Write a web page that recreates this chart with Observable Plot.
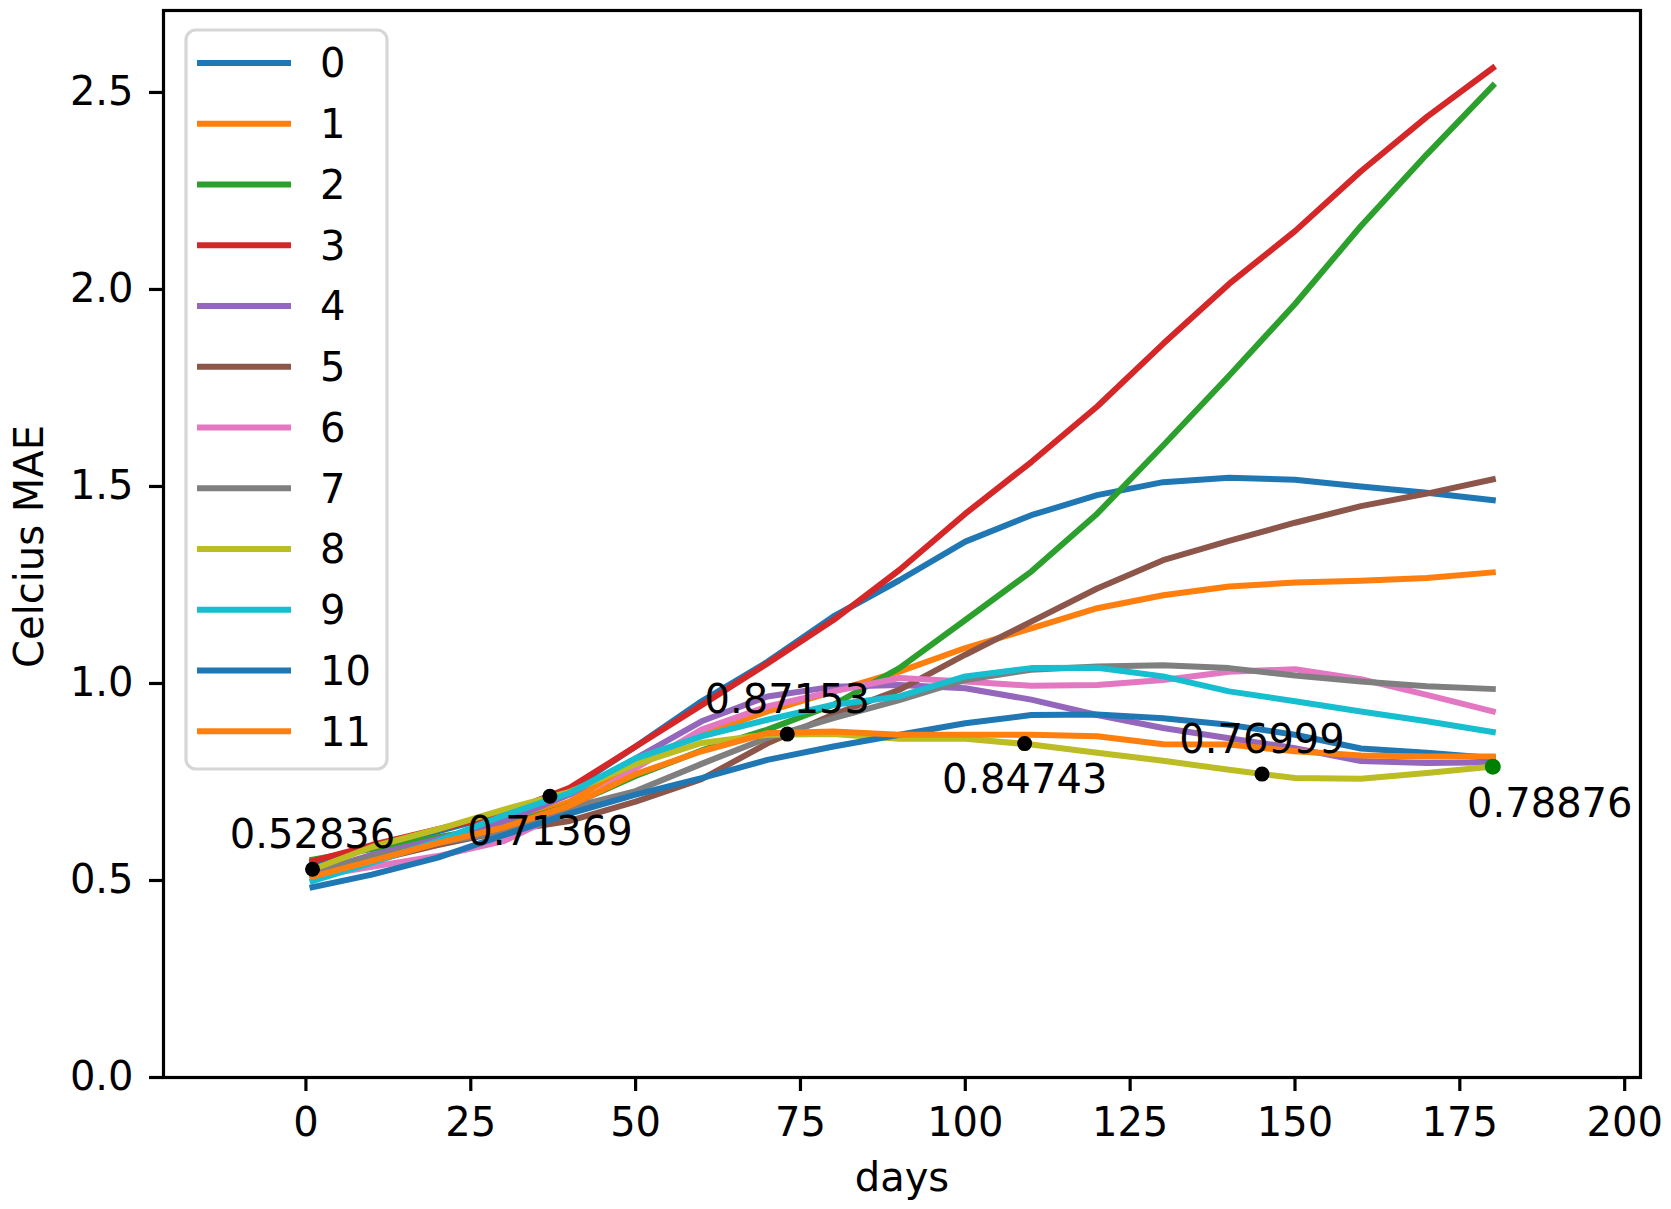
<!DOCTYPE html>
<html>
<head>
<meta charset="utf-8">
<script src="https://cdn.jsdelivr.net/npm/d3@7"></script>
<script src="https://cdn.jsdelivr.net/npm/@observablehq/plot@0.6"></script>
<style>
  html, body { margin: 0; padding: 0; background: #ffffff; }
</style>
</head>
<body>
<div id="chart"></div>
<script>
// ---- data ----
const days = [1, 10, 20, 30, 40, 50, 60, 70, 80, 90, 100, 110, 120, 130, 140, 150, 160, 170, 180];
const seriesNames = ["0", "1", "2", "3", "4", "5", "6", "7", "8", "9", "10", "11"];
const s0  = [0.545, 0.585, 0.625, 0.670, 0.730, 0.840, 0.955, 1.055, 1.170, 1.262, 1.360, 1.427, 1.478, 1.511, 1.522, 1.517, 1.500, 1.484, 1.465];
const s1  = [0.515, 0.555, 0.600, 0.640, 0.700, 0.800, 0.870, 0.929, 0.980, 1.030, 1.090, 1.140, 1.191, 1.224, 1.246, 1.256, 1.261, 1.268, 1.282];
const s2  = [0.553, 0.580, 0.610, 0.640, 0.690, 0.765, 0.830, 0.883, 0.946, 1.039, 1.161, 1.284, 1.431, 1.604, 1.781, 1.963, 2.161, 2.343, 2.517];
const s3  = [0.549, 0.590, 0.630, 0.670, 0.735, 0.840, 0.945, 1.051, 1.161, 1.288, 1.431, 1.562, 1.703, 1.862, 2.014, 2.148, 2.300, 2.438, 2.562];
const s4  = [0.520, 0.565, 0.605, 0.650, 0.718, 0.810, 0.904, 0.967, 0.992, 0.996, 0.988, 0.959, 0.920, 0.887, 0.861, 0.836, 0.803, 0.798, 0.800];
const s5  = [0.510, 0.550, 0.590, 0.625, 0.651, 0.700, 0.757, 0.848, 0.921, 0.984, 1.073, 1.157, 1.241, 1.313, 1.362, 1.408, 1.450, 1.482, 1.518];
const s6  = [0.510, 0.535, 0.562, 0.600, 0.680, 0.785, 0.883, 0.942, 0.980, 1.014, 1.005, 0.994, 0.996, 1.009, 1.030, 1.036, 1.011, 0.971, 0.929];
const s7  = [0.525, 0.560, 0.595, 0.625, 0.684, 0.727, 0.796, 0.862, 0.912, 0.958, 1.009, 1.035, 1.043, 1.046, 1.039, 1.020, 1.005, 0.993, 0.986];
const s8  = [0.528, 0.585, 0.630, 0.680, 0.725, 0.795, 0.849, 0.870, 0.872, 0.860, 0.860, 0.845, 0.824, 0.804, 0.781, 0.760, 0.758, 0.773, 0.789];
const s9  = [0.499, 0.545, 0.600, 0.665, 0.722, 0.810, 0.866, 0.908, 0.946, 0.967, 1.018, 1.039, 1.040, 1.018, 0.980, 0.955, 0.929, 0.904, 0.877];
const s10 = [0.483, 0.515, 0.558, 0.615, 0.670, 0.718, 0.760, 0.806, 0.840, 0.870, 0.899, 0.920, 0.921, 0.912, 0.895, 0.870, 0.835, 0.824, 0.811];
const s11 = [0.510, 0.550, 0.595, 0.635, 0.690, 0.770, 0.828, 0.874, 0.878, 0.870, 0.870, 0.870, 0.866, 0.846, 0.845, 0.828, 0.817, 0.815, 0.815];
const seriesValues = [s0, s1, s2, s3, s4, s5, s6, s7, s8, s9, s10, s11];
const seriesColors = ["#1f77b4", "#ff7f0e", "#2ca02c", "#d62728", "#9467bd", "#8c564b",
                      "#e377c2", "#7f7f7f", "#bcbd22", "#17becf", "#1f77b4", "#ff7f0e"];

const markDays = [1, 37, 73, 109, 145, 180];
const markValues = [0.52836, 0.71369, 0.87153, 0.84743, 0.76999, 0.78876];

const xTicks = [0, 25, 50, 75, 100, 125, 150, 175, 200];
const yTicks = [0.0, 0.5, 1.0, 1.5, 2.0, 2.5];

// ---- tables ----
const rows = seriesNames.flatMap((name, i) =>
  days.map((d, j) => ({series: name, day: d, mae: seriesValues[i][j]})));
const points = markDays.map((d, i) => ({day: d, mae: markValues[i], i, last: i === markDays.length - 1}));
const fmt = d => d.mae.toFixed(5);

const W = 1671, H = 1209;
const mL = 163, mR = 31, mT = 10, mB = 132;

const plot = Plot.plot({
  width: W, height: H,
  marginLeft: mL, marginRight: mR, marginTop: mT, marginBottom: mB,
  style: {fontFamily: "'DejaVu Sans', sans-serif", fontSize: "40px", background: "#ffffff", color: "#000000"},
  x: {domain: [-21.6, 202.4]},
  y: {domain: [0, 2.708]},
  color: {domain: seriesNames, range: seriesColors},
  marks: [
    Plot.line(rows, {x: "day", y: "mae", z: "series", stroke: "series",
      strokeWidth: 6, strokeLinecap: "square", strokeLinejoin: "round"}),
    Plot.dot(points.filter(d => !d.last), {x: "day", y: "mae", r: 7.5, fill: "black", stroke: null}),
    Plot.dot(points.filter(d => d.last), {x: "day", y: "mae", r: 8, fill: "green", stroke: null}),
    Plot.text(points.filter(d => d.i % 2 === 0), {x: "day", y: "mae", text: fmt,
      lineAnchor: "bottom", dy: -21, fontSize: 40, fill: "black"}),
    Plot.text(points.filter(d => d.i % 2 === 1 && !d.last), {x: "day", y: "mae", text: fmt,
      lineAnchor: "bottom", dy: 49, fontSize: 40, fill: "black"}),
    Plot.text(points.filter(d => d.last), {x: "day", y: "mae", text: fmt,
      lineAnchor: "bottom", dy: 50, dx: 57, fontSize: 40, fill: "black"}),
    Plot.frame({stroke: "black", strokeWidth: 3.2}),
    Plot.axisX({ticks: xTicks, tickSize: 14, tickPadding: 16, strokeWidth: 3.2,
      fontSize: 40, label: null, tickFormat: d => String(d)}),
    Plot.axisY({ticks: yTicks, tickSize: 14, tickPadding: 16, strokeWidth: 3.2,
      fontSize: 40, label: null, tickFormat: d3.format(".1f")}),
    Plot.text(["days"], {text: d => d, frameAnchor: "bottom", lineAnchor: "bottom",
      dy: 113, fontSize: 40, fill: "black"})
  ]
});

const svg = d3.select(plot);

// ---- y-axis title ----
svg.append("text")
  .attr("transform", `translate(43, ${(mT + H - mB) / 2 + 3}) rotate(-90)`)
  .attr("text-anchor", "middle")
  .attr("font-size", 40)
  .attr("fill", "black")
  .text("Celcius MAE");

// ---- legend (inside the plot, upper left) ----
const lg = svg.append("g").attr("class", "legend");
lg.append("rect")
  .attr("x", 186).attr("y", 30).attr("width", 201).attr("height", 739)
  .attr("rx", 10).attr("ry", 10)
  .attr("fill", "white").attr("fill-opacity", 0.8)
  .attr("stroke", "#cccccc").attr("stroke-opacity", 0.8).attr("stroke-width", 3.2);
seriesNames.forEach((name, i) => {
  const y = 63 + i * 60.75;
  lg.append("line")
    .attr("x1", 200).attr("x2", 288).attr("y1", y).attr("y2", y)
    .attr("stroke", seriesColors[i]).attr("stroke-width", 6).attr("stroke-linecap", "square");
  lg.append("text")
    .attr("x", 320).attr("y", y).attr("dy", "0.36em")
    .attr("text-anchor", "start")
    .attr("font-size", 40).attr("fill", "black")
    .text(name);
});

document.getElementById("chart").appendChild(plot);
</script>
</body>
</html>
